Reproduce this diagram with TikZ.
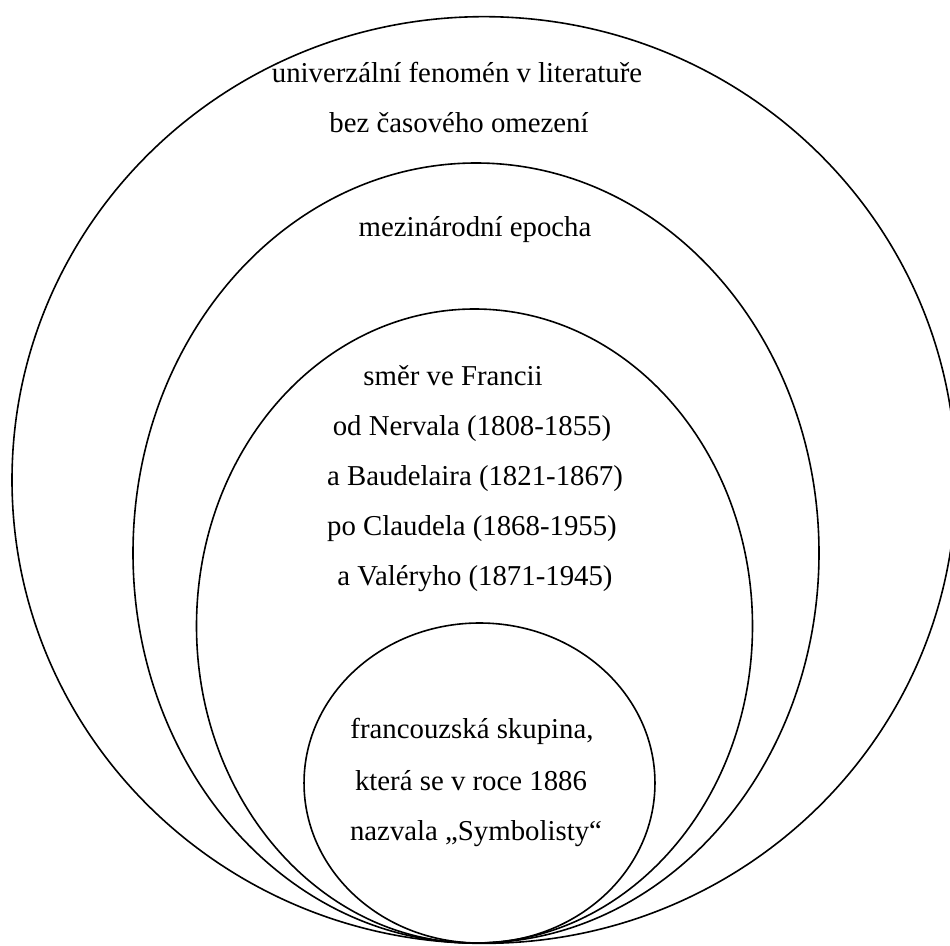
\documentclass[tikz,border=0pt]{standalone}
\usepackage{fontspec}
\setmainfont{Liberation Serif}
\begin{document}
\begin{tikzpicture}[x=0.75pt,y=-0.75pt,
  ring/.style={draw=black,line width=1.2pt},
  lbl/.style={anchor=base,inner sep=0pt,font=\fontsize{21.6}{26}\selectfont}]
\useasboundingbox (0,0) rectangle (950,946);
% ellipses (centre, radii in px * 0.75pt)
\draw[ring] (484,480) ellipse [x radius=354pt, y radius=347.5pt];
\draw[ring] (476,553) ellipse [x radius=257.25pt, y radius=292.5pt];
\draw[ring] (474.5,626) ellipse [x radius=208.5pt, y radius=237.75pt];
\draw[ring] (479.5,783) ellipse [x radius=131.6pt, y radius=120pt];
% labels
\node[lbl] (u1) at (457,82) {univerzální fenomén v literatuře};
\node[lbl] (u2) at (459,132) {bez časového omezení};
\node[lbl] (m1) at (475,236) {mezinárodní epocha};
\node[lbl] (s1) at (453,385) {směr ve Francii};
\node[lbl] (s2) at (472,435) {od Nervala (1808-1855)};
\node[lbl] (s3) at (475,485) {a Baudelaira (1821-1867)};
\node[lbl] (s4) at (472,535) {po Claudela (1868-1955)};
\node[lbl] (s5) at (475,585) {a Valéryho (1871-1945)};
\node[lbl] (f1) at (472,738) {francouzská skupina,};
\node[lbl] (f2) at (471,790) {která se v roce 1886};
\node[lbl] (f3) at (476,840) {nazvala „Symbolisty“};
\end{tikzpicture}
\end{document}
